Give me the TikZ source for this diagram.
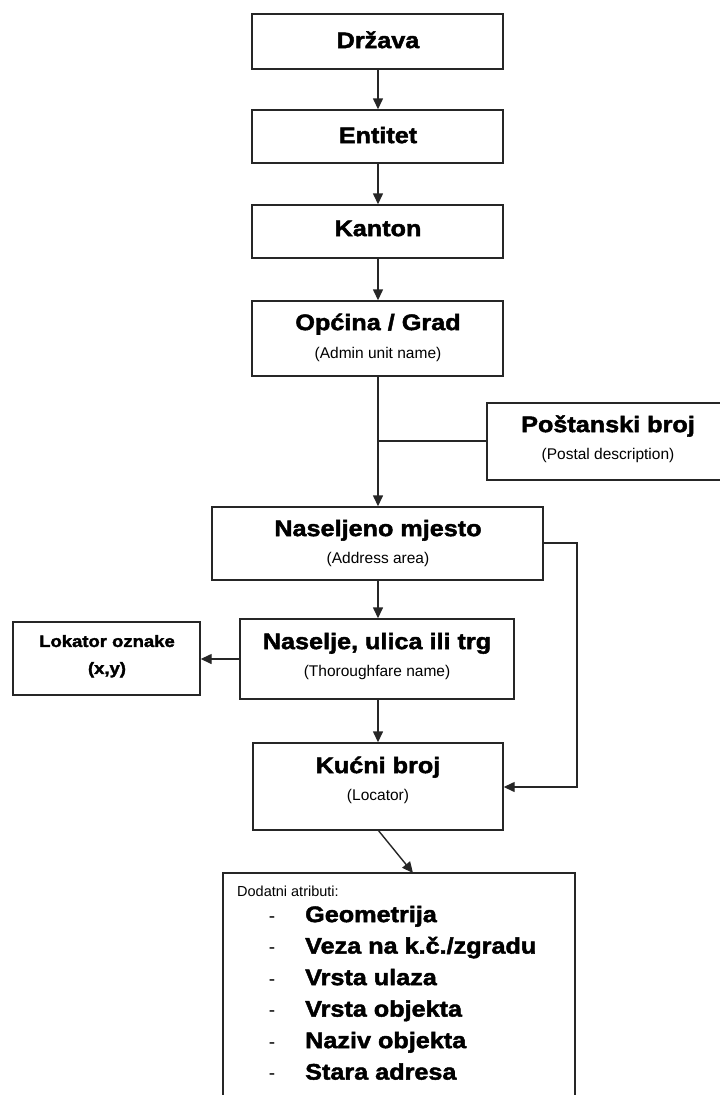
\documentclass[tikz,border=0pt]{standalone}
\usepackage{fontspec}
\setmainfont{Liberation Sans}
\newfontfamily\heavy[FakeStretch=1.12,FakeBold=2]{Liberation Sans Bold}
\usetikzlibrary{arrows.meta}
\tikzset{
  box/.style={draw=black!85, line width=1.4pt, inner sep=0pt, fill=white},
  conn/.style={draw=black!85, line width=1.4pt},
  arr/.style={conn, -{Triangle[length=11pt,width=10pt]}},
  title/.style={font=\fontsize{22.5}{26}\heavy, inner sep=0pt, text height=16.2pt, text depth=0pt},
  sub/.style={font=\fontsize{15.5}{17}\selectfont, inner sep=0pt, text height=11.2pt, text depth=0pt},
  small/.style={font=\fontsize{16.5}{18}\heavy, inner sep=0pt, text height=11.9pt, text depth=0pt},
  item/.style={title, anchor=west},
  dashmark/.style={font=\fontsize{19}{20}\selectfont, inner sep=0pt, anchor=base},
}
\newcommand{\bx}[5]{\node[box, minimum width=#4-#2, minimum height=#5-#3] (#1) at ({(#2+#4)/2},{(#3+#5)/2}) {};}
\begin{document}
\begin{tikzpicture}[x=1pt,y=-1pt]
\useasboundingbox (0,0) rectangle (720,1095);
% boxes
\bx{drz}{252}{14}{503}{69}
\bx{ent}{252}{110}{503}{163}
\bx{kan}{252}{205}{503}{258}
\bx{opc}{252}{301}{503}{376}
\bx{pos}{487}{403}{724}{480}
\bx{nas}{212}{507}{543}{580}
\bx{ulc}{240}{619}{514}{699}
\bx{lok}{13}{622}{200}{695}
\bx{kuc}{253}{743}{503}{830}
\bx{dod}{223}{873}{575}{1102}
% texts
\node[title] (tdrz) at (378,40) {Država};
\node[title] (tent) at (378,135) {Entitet};
\node[title] (tkan) at (378,228) {Kanton};
\node[title] (topc) at (378,322) {Općina / Grad};
\node[sub]   (sopc) at (378,353) {(Admin unit name)};
\node[title] (tpos) at (608,424) {Poštanski broj};
\node[sub]   (spos) at (608,454) {(Postal description)};
\node[title] (tnas) at (378,528) {Naseljeno mjesto};
\node[sub]   (snas) at (378,558) {(Address area)};
\node[title] (tulc) at (377,641) {Naselje, ulica ili trg};
\node[sub]   (sulc) at (377,671) {(Thoroughfare name)};
\node[small] (tlok) at (107,641) {Lokator oznake};
\node[small] (slok) at (107,668) {(x,y)};
\node[title] (tkuc) at (378,765) {Kućni broj};
\node[sub]   (skuc) at (378,795) {(Locator)};
\node[sub, anchor=west, font=\fontsize{14.5}{16}\selectfont] (tdod) at (237,891) {Dodatni atributi:};
\foreach \t [count=\i] in {Geometrija, Veza na k.č./zgradu, Vrsta ulaza, Vrsta objekta, Naziv objekta, Stara adresa} {
  \node[item] (it\i) at (305,{914+31.5*(\i-1)}) {\t};
  \node[dashmark] (d\i) at (it\i.base -| 272,0) {-};
}
% connectors
\coordinate (xnas) at (378,0);
\draw[arr] (drz.south -| xnas) -- (ent.north -| xnas);
\draw[arr] (ent.south -| xnas) -- (kan.north -| xnas);
\draw[arr] (kan.south -| xnas) -- (opc.north -| xnas);
\draw[arr] (opc.south -| xnas) -- (nas.north -| xnas);
\coordinate (jpos) at (378,441);
\draw[conn] (pos.west |- jpos) -- (jpos);
\draw[arr] (nas.south -| xnas) -- (ulc.north -| xnas);
\draw[arr] (ulc.south -| xnas) -- (kuc.north -| xnas);
\coordinate (lokY) at (0,659);
\draw[arr] (ulc.west |- lokY) -- (lok.east |- lokY);
\coordinate (rA) at (577,543);
\coordinate (rB) at (577,787);
\draw[arr] (nas.east |- rA) -- (rA) -- (rB) -- (kuc.east |- rB);
\coordinate (dA) at (378,830);
\coordinate (dB) at (413,873);
\draw[arr] (dA) -- (dB);
\end{tikzpicture}
\end{document}
